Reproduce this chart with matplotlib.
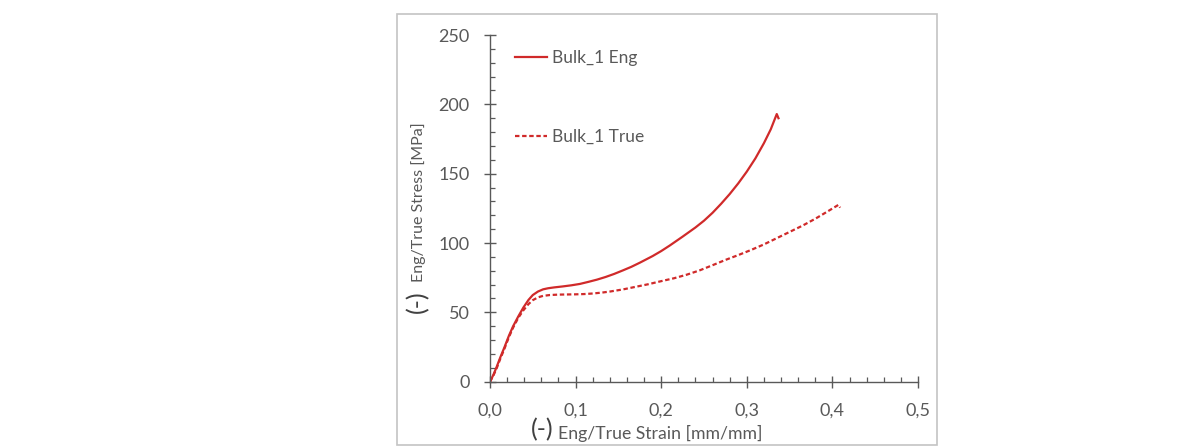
import matplotlib
matplotlib.use("Agg")
import matplotlib.pyplot as plt
from matplotlib.patches import Rectangle
from matplotlib.ticker import MultipleLocator

plt.rcParams['font.family'] = ['Lato', 'DejaVu Sans']

# Bulk_1 engineering curve
eng_strain = [0.0, 0.004, 0.008, 0.012, 0.017, 0.022, 0.027, 0.033, 0.039, 0.045,
              0.05, 0.056, 0.062, 0.068, 0.075, 0.085, 0.095, 0.105, 0.115, 0.125,
              0.135, 0.145, 0.155, 0.165, 0.175, 0.19, 0.2, 0.21, 0.225, 0.24,
              0.25, 0.26, 0.27, 0.28, 0.29, 0.3, 0.31, 0.32, 0.328, 0.335, 0.337]
eng_stress = [0, 5, 11, 17.5, 25, 33, 40, 47, 53.5, 59,
              62.5, 65, 66.6, 67.4, 68, 68.7, 69.5, 70.5, 72, 73.6,
              75.5, 77.7, 80.2, 82.8, 85.8, 90.6, 94.2, 98.2, 104.6, 111.2,
              116.1, 121.8, 128.3, 135.3, 143, 151.5, 161, 172, 182, 193, 190]

# Bulk_1 true curve
true_strain = [0.0, 0.004, 0.008, 0.012, 0.017, 0.022, 0.027, 0.033, 0.039, 0.045,
               0.05, 0.056, 0.062, 0.07, 0.08, 0.09, 0.1, 0.11, 0.12, 0.13,
               0.14, 0.155, 0.17, 0.185, 0.2, 0.215, 0.23, 0.245, 0.26, 0.275,
               0.29, 0.305, 0.32, 0.335, 0.35, 0.365, 0.38, 0.395, 0.407, 0.409]
true_stress = [0, 4.5, 10, 16.5, 24, 32, 39, 46, 51.5, 56,
               58.8, 60.8, 61.9, 62.5, 62.8, 62.9, 63, 63.2, 63.6, 64.2,
               65, 66.5, 68.4, 70.3, 72.5, 74.6, 77.2, 80.3, 84, 87.8,
               91.3, 95, 99, 103.5, 108, 112.5, 117.5, 123, 127.5, 125.5]

x_ticks = [0.0, 0.1, 0.2, 0.3, 0.4, 0.5]
x_tick_labels = ["0,0", "0,1", "0,2", "0,3", "0,4", "0,5"]
y_ticks = [0, 50, 100, 150, 200, 250]

red = '#d02a2a'
axis_col = '#595959'
W, H = 1192, 447

fig = plt.figure(figsize=(W / 100, H / 100), dpi=100)
fig.patch.set_facecolor('white')

# light grey frame around the chart area
fig.patches.append(Rectangle((397 / W, 1 - 445 / H), (937 - 397) / W, (445 - 14) / H,
                             transform=fig.transFigure, fill=False,
                             edgecolor='#c4c4c4', linewidth=1.2))

ax = fig.add_axes([490 / W, 1 - 381.7 / H, 428 / W, (381.7 - 35) / H])
ax.plot(eng_strain, eng_stress, color=red, linewidth=1.6, label='Bulk_1 Eng')
ax.plot(true_strain, true_stress, color=red, linewidth=1.6, linestyle=(0, (2.0, 1.2)),
        label='Bulk_1 True')

ax.set_xlim(0, 0.5)
ax.set_ylim(0, 250)
ax.set_xticks(x_ticks)
ax.set_xticklabels(x_tick_labels)
ax.set_yticks(y_ticks)
ax.xaxis.set_minor_locator(MultipleLocator(0.02))
ax.yaxis.set_minor_locator(MultipleLocator(10))

for s in ['top', 'right']:
    ax.spines[s].set_visible(False)
for s in ['left', 'bottom']:
    ax.spines[s].set_color(axis_col)
    ax.spines[s].set_linewidth(1.0)
ax.set_facecolor('none')

ax.tick_params(which='major', direction='inout', length=8.5, width=1.0,
               color=axis_col, labelcolor=axis_col, labelsize=13, pad=10.5)
ax.tick_params(which='minor', direction='in', length=3.5, width=0.9, color=axis_col)

leg = ax.legend(loc='upper left', bbox_to_anchor=(0.023, 1.003), frameon=False,
                fontsize=12.5, handlelength=1.8, handletextpad=0.3, labelspacing=3.65,
                labelcolor=axis_col)

# axis titles, with the larger "(-)" prefix drawn separately
fig.text(558 / W, 1 - 433 / H, 'Eng/True Strain [mm/mm]', ha='left', va='center',
         fontsize=12.7, color=axis_col)
fig.text(542 / W, 1 - 430 / H, '(-)', ha='center', va='center',
         fontsize=18, color='#404040')
fig.text(419 / W, 1 - 122 / H, 'Eng/True Stress [MPa]', ha='center', va='top',
         rotation=90, fontsize=11.5, color=axis_col)
fig.text(418 / W, 1 - 302 / H, '(-)', ha='center', va='center', rotation=90,
         fontsize=18, color='#404040')

fig.savefig('out.png', dpi=100, facecolor='white')
